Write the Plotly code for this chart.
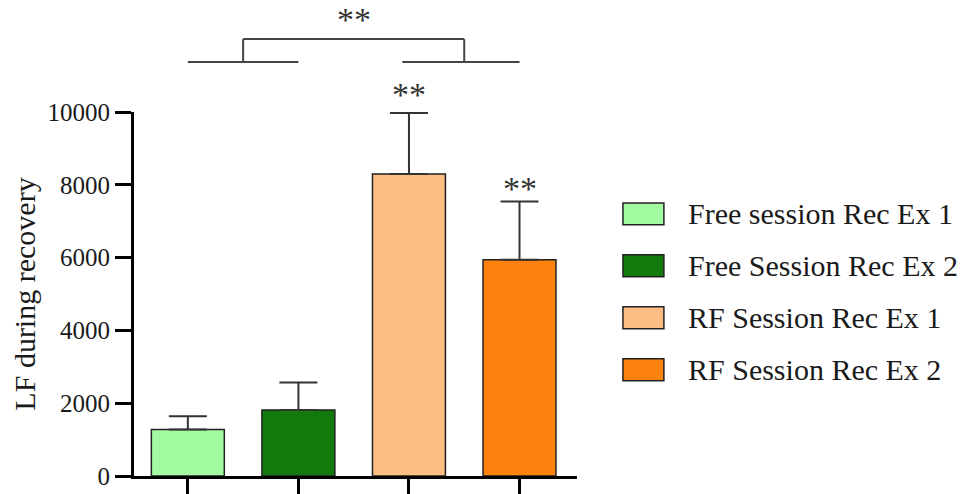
import plotly.graph_objects as go

# ---- data ----
groups = ["Free session Rec Ex 1", "Free Session Rec Ex 2", "RF Session Rec Ex 1", "RF Session Rec Ex 2"]
means = [1280, 1810, 8300, 5940]
sems = [360, 760, 1670, 1600]
colors = ["#a2fba0", "#12790c", "#fdbe84", "#fd810d"]
y_ticks = [0, 2000, 4000, 6000, 8000, 10000]
sig_bars = ["", "", "**", "**"]
sig_top = "**"

W, H = 979, 494
# plot area in window pixels
X0, X1, Y0, Y1 = 133.5, 577, 112, 476.5
L, R, T, B = X0, W - X1, Y0, H - Y1
PW, PH = X1 - X0, Y1 - Y0
XR = [-0.487, 3.52]
YMAX = 10000

def px_x(px):
    return (px - X0) / PW

def px_y(py):
    return (Y1 - py) / PH

FONT = "Liberation Serif"
TXT = "#1a1a1a"

fig = go.Figure()
for i, (g, m, e, c) in enumerate(zip(groups, means, sems, colors)):
    fig.add_trace(go.Bar(
        x=[i], y=[m], name=g, width=0.66,
        marker=dict(color=c, line=dict(color="#222222", width=1.5)),
        error_y=dict(type="data", symmetric=False, array=[e], arrayminus=[0],
                     color="#333333", thickness=2, width=19),
        showlegend=False,
    ))

annotations = []
shapes = []

# significance stars above bars
star_shift = [0, 0, -2, -7]
for i, (s, m, e) in enumerate(zip(sig_bars, means, sems)):
    if s:
        annotations.append(dict(x=i, xref="x", y=(m + e) / YMAX, yref="paper",
                                text=s, showarrow=False, yanchor="bottom", yshift=star_shift[i],
                                font=dict(family=FONT, size=34, color="#333333")))

# bracket comparison (Free vs RF)
lc = dict(color="#444444", width=2)
yb, yt = px_y(62), px_y(39)
shapes += [
    dict(type="line", xref="x", yref="paper", x0=0, x1=1, y0=yb, y1=yb, line=lc),
    dict(type="line", xref="x", yref="paper", x0=1.94, x1=3, y0=yb, y1=yb, line=lc),
    dict(type="line", xref="x", yref="paper", x0=0.5, x1=0.5, y0=yb, y1=yt, line=lc),
    dict(type="line", xref="x", yref="paper", x0=2.5, x1=2.5, y0=yb, y1=yt, line=lc),
    dict(type="line", xref="x", yref="paper", x0=0.5, x1=2.5, y0=yt, y1=yt, line=lc),
]
annotations.append(dict(x=1.5, xref="x", y=yt, yref="paper", text=sig_top, showarrow=False,
                        yanchor="bottom", yshift=-1,
                        font=dict(family=FONT, size=34, color="#333333")))

# manual legend
row_px = [214, 266, 318, 370]
for g, c, ry in zip(groups, colors, row_px):
    shapes.append(dict(type="rect", xref="paper", yref="paper",
                       x0=px_x(623), x1=px_x(664), y0=px_y(ry + 11), y1=px_y(ry - 11),
                       fillcolor=c, line=dict(color="#222222", width=1.5)))
    annotations.append(dict(x=px_x(686), xref="paper", y=px_y(ry), yref="paper",
                            text=g, showarrow=False, xanchor="left", yanchor="middle",
                            font=dict(family=FONT, size=30, color=TXT)))

fig.update_layout(
    width=W, height=H,
    margin=dict(l=L, r=R, t=T, b=B, autoexpand=False),
    plot_bgcolor="white", paper_bgcolor="white",
    barmode="overlay", showlegend=False,
    shapes=shapes, annotations=annotations,
    font=dict(family=FONT, color=TXT),
    xaxis=dict(range=XR, showgrid=False, zeroline=False, showline=True, linecolor="black",
               linewidth=3, ticks="outside", ticklen=18, tickwidth=3, tickcolor="black",
               tickvals=[0, 1, 2, 3], showticklabels=False, automargin=False),
    yaxis=dict(range=[0, YMAX], showgrid=False, zeroline=False, showline=True, linecolor="black",
               linewidth=3, ticks="outside", ticklen=16, tickwidth=3, tickcolor="black",
               tickvals=y_ticks, ticktext=[str(v) for v in y_ticks], automargin=False,
               tickfont=dict(family=FONT, size=25, color=TXT),
               title=dict(text="LF during recovery", standoff=4,
                          font=dict(family=FONT, size=30, color=TXT))),
)

# remove the default 8px page margin so the figure fills the window exactly
fig.write_html("out.html", config={"displayModeBar": False},
               post_script="document.body.style.margin='0px';document.body.style.overflow='hidden';")
